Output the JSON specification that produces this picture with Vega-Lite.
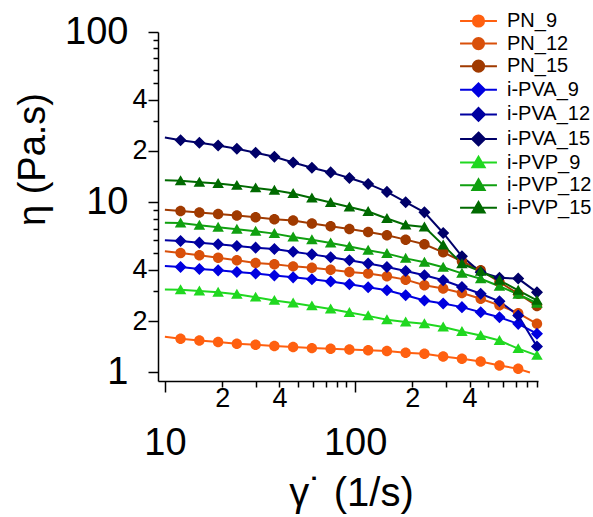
{
  "$schema": "https://vega.github.io/schema/vega-lite/v6.json",
  "width": 380,
  "height": 349,
  "autosize": {"type": "none"},
  "padding": {"left": 158, "top": 32, "right": 55, "bottom": 136},
  "background": "white",
  "config": {
    "view": {"stroke": null},
    "font": "Liberation Sans",
    "axis": {
      "domainColor": "black", "domainWidth": 1.5, "tickColor": "black", "tickWidth": 1.5,
      "labelColor": "black", "titleColor": "black", "grid": false,
      "labelFont": "Liberation Sans", "titleFont": "Liberation Sans", "titleFontWeight": "normal",
      "labelOverlap": false, "labelFlush": false, "labelBound": false
    }
  },
  "datasets": {
    "visc": [
      {"series":"PN_9","rate":10,"eta":1.62},{"series":"PN_9","rate":12.09,"eta":1.58},{"series":"PN_9","rate":15.18,"eta":1.54},{"series":"PN_9","rate":19.05,"eta":1.51},{"series":"PN_9","rate":23.9,"eta":1.475},{"series":"PN_9","rate":29.99,"eta":1.455},{"series":"PN_9","rate":37.64,"eta":1.43},{"series":"PN_9","rate":47.23,"eta":1.41},{"series":"PN_9","rate":59.27,"eta":1.39},{"series":"PN_9","rate":74.37,"eta":1.38},{"series":"PN_9","rate":93.33,"eta":1.365},{"series":"PN_9","rate":117.1,"eta":1.35},{"series":"PN_9","rate":147,"eta":1.335},{"series":"PN_9","rate":184.4,"eta":1.306},{"series":"PN_9","rate":231.4,"eta":1.288},{"series":"PN_9","rate":290.4,"eta":1.242},{"series":"PN_9","rate":364.4,"eta":1.204},{"series":"PN_9","rate":457.3,"eta":1.16},{"series":"PN_9","rate":573.9,"eta":1.1},{"series":"PN_9","rate":720.1,"eta":1.05},{"series":"PN_9","rate":830,"eta":1.0},

      {"series":"PN_12","rate":10,"eta":5.15},{"series":"PN_12","rate":12.09,"eta":5.03},{"series":"PN_12","rate":15.18,"eta":4.88},{"series":"PN_12","rate":19.05,"eta":4.72},{"series":"PN_12","rate":23.9,"eta":4.56},{"series":"PN_12","rate":29.99,"eta":4.4},{"series":"PN_12","rate":37.64,"eta":4.32},{"series":"PN_12","rate":47.23,"eta":4.2},{"series":"PN_12","rate":59.27,"eta":4.12},{"series":"PN_12","rate":74.37,"eta":4.01},{"series":"PN_12","rate":93.33,"eta":3.89},{"series":"PN_12","rate":117.1,"eta":3.81},{"series":"PN_12","rate":147,"eta":3.67},{"series":"PN_12","rate":184.4,"eta":3.51},{"series":"PN_12","rate":231.4,"eta":3.25},{"series":"PN_12","rate":290.4,"eta":3.11},{"series":"PN_12","rate":364.4,"eta":2.93},{"series":"PN_12","rate":457.3,"eta":2.71},{"series":"PN_12","rate":573.9,"eta":2.48},{"series":"PN_12","rate":720.1,"eta":2.23},{"series":"PN_12","rate":903.6,"eta":1.93},

      {"series":"PN_15","rate":10,"eta":9.03},{"series":"PN_15","rate":12.09,"eta":8.89},{"series":"PN_15","rate":15.18,"eta":8.7},{"series":"PN_15","rate":19.05,"eta":8.54},{"series":"PN_15","rate":23.9,"eta":8.36},{"series":"PN_15","rate":29.99,"eta":8.16},{"series":"PN_15","rate":37.64,"eta":7.94},{"series":"PN_15","rate":47.23,"eta":7.81},{"series":"PN_15","rate":59.27,"eta":7.49},{"series":"PN_15","rate":74.37,"eta":7.22},{"series":"PN_15","rate":93.33,"eta":6.97},{"series":"PN_15","rate":117.1,"eta":6.69},{"series":"PN_15","rate":147,"eta":6.4},{"series":"PN_15","rate":184.4,"eta":6.03},{"series":"PN_15","rate":231.4,"eta":5.66},{"series":"PN_15","rate":290.4,"eta":5.08},{"series":"PN_15","rate":364.4,"eta":4.5},{"series":"PN_15","rate":457.3,"eta":3.98},{"series":"PN_15","rate":573.9,"eta":3.4},{"series":"PN_15","rate":720.1,"eta":2.9},{"series":"PN_15","rate":903.6,"eta":2.46},

      {"series":"i-PVA_9","rate":10,"eta":4.22},{"series":"i-PVA_9","rate":12.09,"eta":4.16},{"series":"i-PVA_9","rate":15.18,"eta":4.05},{"series":"i-PVA_9","rate":19.05,"eta":3.98},{"series":"i-PVA_9","rate":23.9,"eta":3.89},{"series":"i-PVA_9","rate":29.99,"eta":3.81},{"series":"i-PVA_9","rate":37.64,"eta":3.71},{"series":"i-PVA_9","rate":47.23,"eta":3.62},{"series":"i-PVA_9","rate":59.27,"eta":3.53},{"series":"i-PVA_9","rate":74.37,"eta":3.42},{"series":"i-PVA_9","rate":93.33,"eta":3.3},{"series":"i-PVA_9","rate":117.1,"eta":3.17},{"series":"i-PVA_9","rate":147,"eta":3.04},{"series":"i-PVA_9","rate":184.4,"eta":2.84},{"series":"i-PVA_9","rate":231.4,"eta":2.65},{"series":"i-PVA_9","rate":290.4,"eta":2.54},{"series":"i-PVA_9","rate":364.4,"eta":2.42},{"series":"i-PVA_9","rate":457.3,"eta":2.26},{"series":"i-PVA_9","rate":573.9,"eta":2.11},{"series":"i-PVA_9","rate":720.1,"eta":1.93},{"series":"i-PVA_9","rate":903.6,"eta":1.69},

      {"series":"i-PVA_12","rate":10,"eta":5.98},{"series":"i-PVA_12","rate":12.09,"eta":5.92},{"series":"i-PVA_12","rate":15.18,"eta":5.79},{"series":"i-PVA_12","rate":19.05,"eta":5.66},{"series":"i-PVA_12","rate":23.9,"eta":5.53},{"series":"i-PVA_12","rate":29.99,"eta":5.41},{"series":"i-PVA_12","rate":37.64,"eta":5.31},{"series":"i-PVA_12","rate":47.23,"eta":5.12},{"series":"i-PVA_12","rate":59.27,"eta":4.94},{"series":"i-PVA_12","rate":74.37,"eta":4.75},{"series":"i-PVA_12","rate":93.33,"eta":4.56},{"series":"i-PVA_12","rate":117.1,"eta":4.36},{"series":"i-PVA_12","rate":147,"eta":4.16},{"series":"i-PVA_12","rate":184.4,"eta":3.94},{"series":"i-PVA_12","rate":231.4,"eta":3.72},{"series":"i-PVA_12","rate":290.4,"eta":3.48},{"series":"i-PVA_12","rate":364.4,"eta":3.18},{"series":"i-PVA_12","rate":457.3,"eta":2.9},{"series":"i-PVA_12","rate":573.9,"eta":2.62},{"series":"i-PVA_12","rate":720.1,"eta":2.16},{"series":"i-PVA_12","rate":903.6,"eta":1.42},

      {"series":"i-PVA_15","rate":10,"eta":24.0},{"series":"i-PVA_15","rate":12.09,"eta":23.15},{"series":"i-PVA_15","rate":15.18,"eta":22.33},{"series":"i-PVA_15","rate":19.05,"eta":21.56},{"series":"i-PVA_15","rate":23.9,"eta":20.64},{"series":"i-PVA_15","rate":29.99,"eta":19.55},{"series":"i-PVA_15","rate":37.64,"eta":18.48},{"series":"i-PVA_15","rate":47.23,"eta":17.12},{"series":"i-PVA_15","rate":59.27,"eta":15.95},{"series":"i-PVA_15","rate":74.37,"eta":14.97},{"series":"i-PVA_15","rate":93.33,"eta":13.88},{"series":"i-PVA_15","rate":117.1,"eta":12.81},{"series":"i-PVA_15","rate":147,"eta":11.5},{"series":"i-PVA_15","rate":184.4,"eta":10.0},{"series":"i-PVA_15","rate":231.4,"eta":8.72},{"series":"i-PVA_15","rate":290.4,"eta":6.6},{"series":"i-PVA_15","rate":364.4,"eta":4.81},{"series":"i-PVA_15","rate":457.3,"eta":3.875},{"series":"i-PVA_15","rate":573.9,"eta":3.6},{"series":"i-PVA_15","rate":720.1,"eta":3.56},{"series":"i-PVA_15","rate":903.6,"eta":2.955},

      {"series":"i-PVP_9","rate":10,"eta":3.07},{"series":"i-PVP_9","rate":12.09,"eta":3.06},{"series":"i-PVP_9","rate":15.18,"eta":3.01},{"series":"i-PVP_9","rate":19.05,"eta":2.955},{"series":"i-PVP_9","rate":23.9,"eta":2.88},{"series":"i-PVP_9","rate":29.99,"eta":2.77},{"series":"i-PVP_9","rate":37.64,"eta":2.65},{"series":"i-PVP_9","rate":47.23,"eta":2.56},{"series":"i-PVP_9","rate":59.27,"eta":2.46},{"series":"i-PVP_9","rate":74.37,"eta":2.36},{"series":"i-PVP_9","rate":93.33,"eta":2.25},{"series":"i-PVP_9","rate":117.1,"eta":2.15},{"series":"i-PVP_9","rate":147,"eta":2.04},{"series":"i-PVP_9","rate":184.4,"eta":1.98},{"series":"i-PVP_9","rate":231.4,"eta":1.93},{"series":"i-PVP_9","rate":290.4,"eta":1.85},{"series":"i-PVP_9","rate":364.4,"eta":1.74},{"series":"i-PVP_9","rate":457.3,"eta":1.65},{"series":"i-PVP_9","rate":573.9,"eta":1.54},{"series":"i-PVP_9","rate":720.1,"eta":1.38},{"series":"i-PVP_9","rate":903.6,"eta":1.26},

      {"series":"i-PVP_12","rate":10,"eta":7.58},{"series":"i-PVP_12","rate":12.09,"eta":7.55},{"series":"i-PVP_12","rate":15.18,"eta":7.32},{"series":"i-PVP_12","rate":19.05,"eta":7.13},{"series":"i-PVP_12","rate":23.9,"eta":6.94},{"series":"i-PVP_12","rate":29.99,"eta":6.75},{"series":"i-PVP_12","rate":37.64,"eta":6.54},{"series":"i-PVP_12","rate":47.23,"eta":6.25},{"series":"i-PVP_12","rate":59.27,"eta":6.02},{"series":"i-PVP_12","rate":74.37,"eta":5.76},{"series":"i-PVP_12","rate":93.33,"eta":5.49},{"series":"i-PVP_12","rate":117.1,"eta":5.22},{"series":"i-PVP_12","rate":147,"eta":4.99},{"series":"i-PVP_12","rate":184.4,"eta":4.68},{"series":"i-PVP_12","rate":231.4,"eta":4.44},{"series":"i-PVP_12","rate":290.4,"eta":4.15},{"series":"i-PVP_12","rate":364.4,"eta":3.82},{"series":"i-PVP_12","rate":457.3,"eta":3.55},{"series":"i-PVP_12","rate":573.9,"eta":3.21},{"series":"i-PVP_12","rate":720.1,"eta":2.88},{"series":"i-PVP_12","rate":903.6,"eta":2.55},

      {"series":"i-PVP_15","rate":10,"eta":13.47},{"series":"i-PVP_15","rate":12.09,"eta":13.35},{"series":"i-PVP_15","rate":15.18,"eta":13.11},{"series":"i-PVP_15","rate":19.05,"eta":12.88},{"series":"i-PVP_15","rate":23.9,"eta":12.56},{"series":"i-PVP_15","rate":29.99,"eta":12.14},{"series":"i-PVP_15","rate":37.64,"eta":11.77},{"series":"i-PVP_15","rate":47.23,"eta":11.25},{"series":"i-PVP_15","rate":59.27,"eta":10.58},{"series":"i-PVP_15","rate":74.37,"eta":9.97},{"series":"i-PVP_15","rate":93.33,"eta":9.38},{"series":"i-PVP_15","rate":117.1,"eta":8.82},{"series":"i-PVP_15","rate":147,"eta":8.02},{"series":"i-PVP_15","rate":184.4,"eta":7.35},{"series":"i-PVP_15","rate":231.4,"eta":7.15},{"series":"i-PVP_15","rate":290.4,"eta":5.6},{"series":"i-PVP_15","rate":364.4,"eta":4.35},{"series":"i-PVP_15","rate":457.3,"eta":3.93},{"series":"i-PVP_15","rate":573.9,"eta":3.48},{"series":"i-PVP_15","rate":720.1,"eta":3.04},{"series":"i-PVP_15","rate":903.6,"eta":2.65}
    ]
  },
  "data": {"name": "visc"},
  "encoding": {
    "x": {
      "field": "rate", "type": "quantitative",
      "scale": {"type": "log", "domain": [9.2, 915], "nice": false, "zero": false},
      "axis": {
        "values": [10,20,30,40,50,60,70,80,90,100,200,300,400,500,600,700,800,900],
        "labelExpr": "datum.value == 10 ? ['', '10'] : datum.value == 100 ? ['', '100'] : (datum.value == 20 || datum.value == 200) ? '2' : (datum.value == 40 || datum.value == 400) ? '4' : ''",
        "tickSize": {"condition": {"test": "datum.value == 10 || datum.value == 100", "value": 11}, "value": 6},
        "labelPadding": -2,
        "labelLineHeight": 34,
        "labelFontSize": {"condition": {"test": "datum.value == 10 || datum.value == 100", "value": 38}, "value": 27},
        "labelBaseline": "top",
        "labelAlign": "center",
        "title": "γ˙ (1/s)",
        "titleFontSize": 40,
        "titleX": 193,
        "titleY": 124,
        "titleBaseline": "alphabetic",
        "titleAlign": "center"
      }
    },
    "y": {
      "field": "eta", "type": "quantitative",
      "scale": {"type": "log", "domain": [0.891, 100], "nice": false, "zero": false},
      "axis": {
        "values": [1,2,3,4,5,6,7,8,9,10,20,30,40,50,60,70,80,90,100],
        "labelExpr": "datum.value == 1 ? '1' : datum.value == 10 ? '10' : datum.value == 100 ? '100' : (datum.value == 2 || datum.value == 20) ? '2' : (datum.value == 4 || datum.value == 40) ? '4' : ''",
        "tickSize": {"condition": {"test": "indexof([1,2,4,10,20,40,100], datum.value) >= 0", "value": 10}, "value": 5},
        "labelPadding": {"condition": {"test": "datum.value == 1 || datum.value == 10 || datum.value == 100", "value": 20}, "value": 1},
        "labelFontSize": {"condition": {"test": "datum.value == 1 || datum.value == 10 || datum.value == 100", "value": 38}, "value": 27},
        "labelBaseline": "middle",
        "labelAlign": "right",
        "title": "η (Pa.s)",
        "titleFontSize": 38,
        "titleX": -114,
        "titleY": 127,
        "titleBaseline": "alphabetic",
        "titleAlign": "center"
      }
    },
    "color": {
      "field": "series", "type": "nominal",
      "scale": {
        "domain": ["PN_9","PN_12","PN_15","i-PVA_9","i-PVA_12","i-PVA_15","i-PVP_9","i-PVP_12","i-PVP_15"],
        "range": ["#FF6010","#D9500A","#A03A00","#0000E0","#0000A0","#000068","#20D820","#10A010","#006A00"]
      },
      "legend": {
        "title": null,
        "orient": "none",
        "legendX": 310.5,
        "legendY": -21,
        "padding": 0,
        "symbolSize": 125,
        "symbolStrokeWidth": 2,
        "labelFontSize": 20,
        "labelFont": "Liberation Sans",
        "labelColor": "black",
        "labelOffset": 18.5,
        "labelLimit": 200,
        "rowPadding": 2.6
      }
    }
  },
  "layer": [
    {"mark": {"type": "line", "strokeWidth": 2}},
    {
      "transform": [{"filter": "datum.rate > 11 && datum.rate != 830"}],
      "mark": {"type": "point", "filled": true, "opacity": 1, "size": 110},
      "encoding": {
        "shape": {
          "field": "series", "type": "nominal",
          "scale": {
            "domain": ["PN_9","PN_12","PN_15","i-PVA_9","i-PVA_12","i-PVA_15","i-PVP_9","i-PVP_12","i-PVP_15"],
            "range": [
              "M-3.3,0H3.3M1,0A1,1,0,1,1,-1,0A1,1,0,1,1,1,0Z","M-3.3,0H3.3M1,0A1,1,0,1,1,-1,0A1,1,0,1,1,1,0Z","M-3.3,0H3.3M1,0A1,1,0,1,1,-1,0A1,1,0,1,1,1,0Z",
              "M-3.3,0H3.3M0,-1.15L1.15,0L0,1.15L-1.15,0Z","M-3.3,0H3.3M0,-1.15L1.15,0L0,1.15L-1.15,0Z","M-3.3,0H3.3M0,-1.15L1.15,0L0,1.15L-1.15,0Z",
              "M-3.3,0H3.3M0,-1.05L1.1,0.85L-1.1,0.85Z","M-3.3,0H3.3M0,-1.05L1.1,0.85L-1.1,0.85Z","M-3.3,0H3.3M0,-1.05L1.1,0.85L-1.1,0.85Z"
            ]
          },
          "legend": null
        }
      }
    }
  ]
}
